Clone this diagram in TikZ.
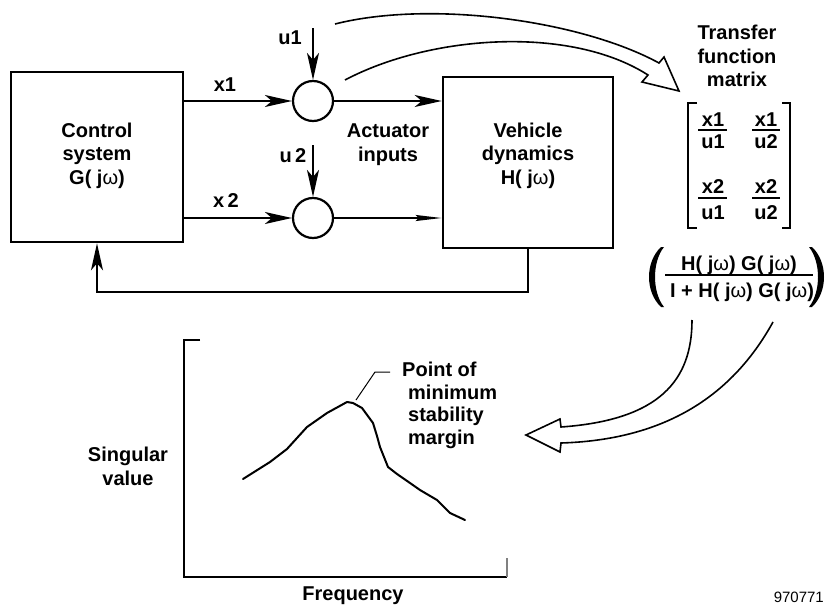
\documentclass[tikz,border=0pt]{standalone}
\usepackage{fontspec}
\setmainfont{Liberation Sans}
\usetikzlibrary{arrows.meta}
\newcommand{\omg}{{\mdseries ω}}
\begin{document}
\begin{tikzpicture}[x=1pt,y=-1pt,
  txt/.style={inner sep=0pt, font=\fontsize{20}{23.5}\selectfont\bfseries, align=center},
  blk/.style={draw, line width=2.6pt, inner sep=0pt},
  sumj/.style={draw, circle, line width=2.2pt, minimum size=40pt, inner sep=0pt},
  conn/.style={line width=1.8pt, -{Stealth[length=27pt,width=12pt,inset=7pt]}},
  thinhead/.style={line width=1.8pt, -{Stealth[length=26pt,width=6pt,inset=3pt]}},
  hollow/.style={line width=1.6pt, line join=miter},
  brk/.style={line width=2.2pt, line join=miter},
  fbar/.style={line width=2pt},
  axis/.style={line width=2.6pt, line join=miter},
  curve/.style={line width=2pt, line join=round, line cap=round}
]
\useasboundingbox (0,0) rectangle (825,605);

% blocks
\node[blk, minimum width=172pt, minimum height=170pt] (ctrl) at (97,157) {};
\node[blk, minimum width=170pt, minimum height=171pt] (veh) at (528,162.5) {};
\node[sumj] (s1) at (313,101) {};
\node[sumj] (s2) at (313,218) {};

\node[txt, anchor=north] (ctrltxt) at (97,122.5) {Control\\system\\G( j\omg)};
\node[txt, anchor=north] (vehtxt) at (528,122.5) {Vehicle\\dynamics\\H( j\omg)};
\node[txt, anchor=north] (acttxt) at (388,124) {Actuator\\inputs};

\node[txt, anchor=base] (x1l) at (225,91) {x1};
\node[txt, anchor=base] (x2l) at (226,207) {x\,2};
\node[txt, anchor=base] (u1l) at (290,45) {u1};
\node[txt, anchor=base] (u2l) at (293,162) {u\,2};

% connectors
\coordinate (u1s) at (313,28);
\coordinate (u2s) at (313,145);
\draw[conn] (u1s) -- (s1.north);
\draw[conn] (u2s) -- (s2.north);
\draw[conn] (ctrl.east |- s1) -- (s1.west);
\draw[conn] (ctrl.east |- s2) -- (s2.west);
\draw[conn] (s1.east) -- (veh.west |- s1);
\draw[thinhead] (s2.east) -- (veh.west |- s2);
\coordinate (fb1) at (528,292);
\coordinate (fb2) at (97,292);
\draw[conn] (veh.south) -- (fb1) -- (fb2) -- (ctrl.south);

% hollow arrows
\draw[hollow] (345,80) .. controls (430,35) and (570,25) .. (648,75) -- (642,82) -- (679,91) -- (664,57) -- (659,63) .. controls (580,20) and (430,0) .. (335,24);
\draw[hollow] (692,320) .. controls (692,380) and (660,420) .. (561,427) -- (560,419) -- (526,435) -- (560,452) -- (561,443) .. controls (660,440) and (730,400) .. (773,322);

% matrix
\node[txt, anchor=north] (tfm) at (737,25) {Transfer\\function\\matrix};
\draw[brk] (697,103) -- (688,103) -- (688,228) -- (697,228);
\draw[brk] (782,103) -- (790,103) -- (790,228) -- (782,228);
\node[txt, anchor=base] (n11) at (713,126) {x1};
\node[txt, anchor=base] (d11) at (713,148) {u1};
\node[txt, anchor=base] (n12) at (766,126) {x1};
\node[txt, anchor=base] (d12) at (766,148) {u2};
\node[txt, anchor=base] (n21) at (713,193) {x2};
\node[txt, anchor=base] (d21) at (713,219) {u1};
\node[txt, anchor=base] (n22) at (766,193) {x2};
\node[txt, anchor=base] (d22) at (766,219) {u2};
\draw[fbar] (698,129.5) -- (727,129.5);
\draw[fbar] (752,129.5) -- (780,129.5);
\draw[fbar] (698,198) -- (727,198);
\draw[fbar] (752,198) -- (780,198);

% closed-loop fraction
\node[txt, anchor=base] (hn) at (739,270) {H( j\omg) G( j\omg)};
\draw[fbar] (665,275) -- (813,275);
\node[txt, anchor=base] (hd) at (742,297) {I + H( j\omg) G( j\omg)};
\fill (661,247) .. controls (645,262) and (645,292) .. (661,307) -- (664,307) .. controls (652,292) and (652,262) .. (664,247) -- cycle;
\fill (812,247) .. controls (828,262) and (828,292) .. (812,307) -- (809,307) .. controls (821,292) and (821,262) .. (809,247) -- cycle;

% graph
\draw[axis] (200,340) -- (184,340) -- (184,577) -- (507,577);
\draw[line width=1.3pt, gray] (507,577) -- (507,558);
\draw[curve] (243,479) -- (270,462) -- (287,449) -- (307,427) -- (327,413) -- (347,402) -- (353,403) -- (362,408) -- (373,423) -- (377,436) -- (380,447) -- (388,467) -- (397,474) -- (410,483) -- (420,490) -- (437,500) -- (450,513) -- (465,520);
\draw[line width=1pt] (356,400) -- (375,372) -- (390,372);
\node[txt, anchor=north west, align=left, font=\fontsize{20}{22.5}\selectfont\bfseries] (pom) at (402,362) {Point of\\\hspace*{6pt}minimum\\\hspace*{6pt}stability\\\hspace*{6pt}margin};
\node[txt, anchor=north, font=\fontsize{20}{24}\selectfont\bfseries] (sv) at (128,447) {Singular\\value};
\node[txt, anchor=north] (fq) at (353,587) {Frequency};
\node[anchor=base east, inner sep=0pt, font=\fontsize{15}{18}\selectfont] (fig) at (824,602) {970771};
\end{tikzpicture}
\end{document}
